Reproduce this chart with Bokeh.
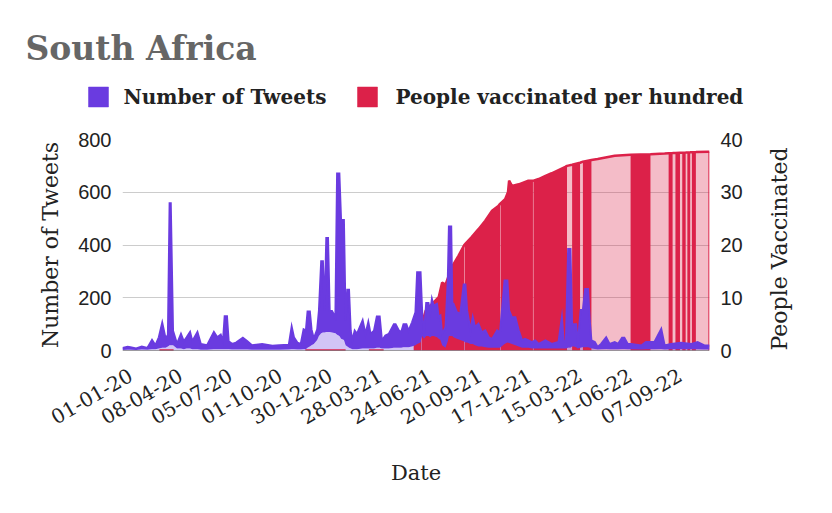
import math
import numpy as np
from bokeh.plotting import figure
from bokeh.layouts import column
from bokeh.models import Range1d, LinearAxis, FixedTicker, Label, Span
from bokeh.embed import file_html
from bokeh.resources import INLINE

# ---------------- data ----------------
title_text = "South Africa"
series_names = ["Number of Tweets", "People vaccinated per hundred"]
x_title = "Date"
y_left_title = "Number of Tweets"
y_right_title = "People Vaccinated"

tick_labels = ["01-01-20", "08-04-20", "05-07-20", "01-10-20", "30-12-20",
               "28-03-21", "24-06-21", "20-09-21", "17-12-21", "15-03-22",
               "11-06-22", "07-09-22"]
label_every = 88          # categories between shown labels
left_ticks = [0, 200, 400, 600, 800]
right_ticks = [0, 10, 20, 30, 40]

# category position (0 = 01-01-20); daily tweet counts summarised as
# the upper and lower edge of the day-to-day swing
tweet_day = [-14, -5, 0, 10, 20, 30, 38, 44, 50, 56, 62, 66, 69, 71, 75, 82,
             89, 94, 99, 105, 109, 118, 124, 135, 147, 153, 159, 163, 166,
             170, 173, 179, 186, 198, 206, 214, 232, 250, 262, 279, 284, 288,
             294, 300, 305, 309, 312, 316, 319, 323, 329, 332, 336, 339, 342,
             345, 348, 351, 355, 361, 364, 368, 371, 376, 379, 382, 385, 388,
             391, 395, 399, 409, 414, 419, 423, 429, 434, 439, 443, 449, 455,
             464, 467, 473, 477, 481, 486, 490, 496, 502, 505, 511, 514, 517,
             521, 525, 528, 531, 534, 540, 543, 546, 549, 555, 559, 561, 565,
             567, 569, 575, 581, 587, 590, 593, 599, 603, 607, 613, 619, 625,
             631, 637, 646, 651, 659, 664, 667, 672, 678, 684, 690, 695, 701,
             707, 713, 719, 731, 742, 754, 760, 763, 767, 771, 775, 778, 781,
             785, 788, 793, 797, 801, 806, 809, 812, 818, 823, 829, 838, 844,
             853, 859, 866, 870, 876, 882, 900, 908, 923, 935, 941, 952, 970,
             988, 999, 1011, 1020]
tweet_high = [10, 14, 12, 8, 15, 10, 40, 20, 50, 105, 45, 60, 558, 558, 75, 25,
              63, 35, 50, 70, 35, 70, 25, 20, 70, 50, 60, 35, 130,
              130, 35, 25, 30, 48, 35, 20, 25, 18, 20, 22, 90, 50,
              30, 25, 80, 75, 148, 148, 80, 45, 80, 150, 338, 338, 150,
              427, 427, 150, 150, 126, 671, 671, 495, 495, 115, 230, 230, 75,
              38, 75, 63, 114, 63, 108, 63, 75, 129, 129, 38, 57, 63,
              100, 100, 75, 70, 100, 100, 75, 107, 145, 297, 297, 139, 63,
              180, 180, 145, 195, 170, 177, 126, 132, 63, 88, 265, 470, 470,
              177, 177, 145, 139, 250, 250, 152, 76, 126, 88, 101, 69, 76,
              50, 44, 76, 69, 265, 265, 152, 126, 126, 76, 38, 44, 38,
              32, 38, 25, 38, 25, 32, 126, 38, 30, 385, 385, 100, 100,
              100, 25, 154, 154, 233, 233, 114, 38, 32, 13, 25, 50, 25,
              32, 25, 48, 48, 25, 25, 19, 32, 32, 82, 19, 25, 29,
              25, 32, 19, 19]
tweet_low = [2, 3, 3, 2, 4, 3, 5, 5, 8, 10, 10, 15, 20, 20, 20, 8,
             8, 5, 8, 8, 5, 5, 3, 3, 5, 5, 5, 5, 5,
             5, 5, 4, 4, 4, 4, 3, 3, 3, 3, 4, 5, 5,
             4, 4, 5, 5, 10, 15, 20, 25, 40, 55, 65, 68, 68,
             70, 70, 70, 68, 65, 60, 55, 45, 40, 20, 15, 10, 8,
             5, 5, 5, 8, 8, 8, 8, 8, 10, 10, 8, 8, 8,
             10, 10, 10, 10, 12, 12, 12, 15, 20, 25, 30, 55, 45,
             55, 55, 50, 55, 55, 50, 45, 40, 20, 10, 35, 55, 55,
             55, 50, 45, 40, 35, 30, 30, 25, 25, 20, 15, 15, 12,
             10, 10, 10, 10, 25, 30, 28, 25, 20, 15, 10, 10, 10,
             8, 8, 8, 8, 8, 8, 8, 8, 8, 10, 10, 15, 15,
             12, 8, 10, 12, 12, 12, 10, 8, 6, 4, 5, 6, 5,
             5, 5, 6, 6, 5, 5, 4, 5, 5, 6, 4, 5, 5,
             5, 5, 4, 4]

# people vaccinated per hundred (upper edge of the reported values)
vacc_day = [499, 505, 508, 512, 513, 520, 531, 543, 549, 555, 566, 578, 588,
            589, 601, 613, 625, 637, 648, 651, 652, 660, 665, 667, 672, 684,
            701, 709, 710, 719, 731, 742, 754, 766, 769, 778, 792, 797, 812,
            823, 853, 881, 916, 941, 948, 955, 960, 968, 972, 978, 981, 986,
            989, 996, 1018, 1020]
vacc_value = [2.0, 3.8, 4.3, 4.8, 5.0, 7.5, 8.8, 10.1, 12.9, 12.5, 15.8, 18.0,
              20.0, 20.1, 21.5, 23.0, 24.6, 26.5, 27.4, 27.8, 27.9, 28.7, 30.0,
              32.2, 31.2, 31.5, 32.2, 32.2, 32.2, 32.5, 33.1, 33.6, 34.2, 34.8,
              35.0, 35.2, 35.6, 35.8, 36.1, 36.3, 36.9, 37.1, 37.2, 37.35,
              37.4, 37.42, 37.45, 37.5, 37.5, 37.52, 37.55, 37.57, 37.6,
              37.62, 37.7, 37.7]
# stretches where the reports alternate with zero days
vacc_sparse = [(499, 512), (513, 588), (589, 651), (652, 709), (710, 769),
               (778, 792), (797, 812), (881, 916), (948, 955), (960, 968),
               (972, 978), (981, 986), (989, 996), (1018, 1020)]
# stretches reported as zero before the roll-out
vacc_zero_spans = [(51, 76), (308, 379), (420, 446)]

# ---------------- style ----------------
PURPLE = "#6A3BE0"
RED = "#DC2149"
SERIF = "DejaVu Serif"
SANS = "Liberation Sans"
TXT = "#222222"
W = 832
HEAD_H = 125
MAIN_H = 513 - HEAD_H


def bare(fig):
    fig.outline_line_color = None
    fig.background_fill_color = "white"
    fig.border_fill_color = "white"


# ---------------- header: title + legend ----------------
head = figure(frame_width=W, frame_height=HEAD_H, output_backend="svg",
              toolbar_location=None, x_axis_location=None,
              y_axis_location=None, x_range=Range1d(0, W),
              y_range=Range1d(0, HEAD_H), min_border=0,
              min_border_left=0, min_border_right=0, min_border_top=0,
              min_border_bottom=0)
if "frame_align" in head.properties():
    head.frame_align = False
bare(head)
head.grid.visible = False
head.add_layout(Label(x=25, y=HEAD_H - 48, x_units="screen", y_units="screen",
                      text=title_text, text_font=SERIF,
                      text_font_style="bold", text_font_size="33px",
                      text_color="#666666", text_baseline="alphabetic",
                      text_align="left"))
# legend keys (header pixel positions)
key_x = [98, 367]
key_text_x = [123, 395]
key_colors = [PURPLE, RED]
head.scatter(x=key_x, y=[HEAD_H - 96.5] * 2, marker="square", size=20,
             fill_color=key_colors, line_color=key_colors, line_width=0.5)
for tx, name in zip(key_text_x, series_names):
    head.add_layout(Label(x=tx, y=HEAD_H - 96.5, x_units="screen",
                          y_units="screen", text=name, text_font=SERIF,
                          text_font_style="bold", text_font_size="20px",
                          text_color=TXT, text_baseline="alphabetic",
                          text_align="left"))

# ---------------- main chart ----------------
x0 = min(tweet_day)
x1 = max(vacc_day)

p = figure(width=W, height=MAIN_H, output_backend="svg",
           toolbar_location=None,
           x_range=Range1d(x0, x1), y_range=Range1d(0, 800),
           min_border_left=122, min_border_right=123,
           min_border_top=139 - HEAD_H,
           min_border_bottom=MAIN_H - (350 - HEAD_H))
p.extra_y_ranges = {"vacc": Range1d(0, 40)}
bare(p)

vd = np.array(vacc_day, dtype=float)
vv = np.array(vacc_value, dtype=float)

p.varea(x=vacc_day, y1=0, y2=vacc_value, fill_color=RED, fill_alpha=0.3,
        y_range_name="vacc")
p.varea(x=tweet_day, y1=0, y2=tweet_low, fill_color=PURPLE, fill_alpha=0.3)
for a, b in vacc_sparse:
    m = (vd >= a) & (vd <= b)
    p.varea(x=vd[m], y1=0, y2=vv[m], fill_color=RED, fill_alpha=1.0,
            y_range_name="vacc")
p.segment(x0=[a for a, b in vacc_zero_spans], y0=0,
          x1=[b for a, b in vacc_zero_spans], y1=0,
          line_color=RED, line_width=2.5, y_range_name="vacc")
p.line(vacc_day, vacc_value, line_color=RED, line_width=2.5,
       y_range_name="vacc")
p.varea(x=tweet_day, y1=tweet_low, y2=tweet_high, fill_color=PURPLE)
p.line(tweet_day, tweet_high, line_color=PURPLE, line_width=2,
       line_join="miter")

p.add_layout(Span(location=0, dimension="width", line_color="#444444",
                  line_width=1.2))


def style_axis(ax, font, size, standoff):
    ax.major_label_text_font = font
    ax.major_label_text_font_size = size
    ax.major_label_text_color = TXT
    ax.major_tick_out = 0
    ax.major_tick_in = 0
    ax.major_label_standoff = standoff
    ax.axis_line_color = None
    ax.major_tick_line_color = None
    ax.minor_tick_line_color = None
    ax.axis_label_text_font = SERIF
    ax.axis_label_text_font_style = "normal"
    ax.axis_label_text_font_size = "22px"
    ax.axis_label_text_color = TXT


xa = p.xaxis[0]
xa.ticker = FixedTicker(ticks=[i * label_every for i in range(len(tick_labels))])
xa.major_label_overrides = {i * label_every: t for i, t in enumerate(tick_labels)}
xa.major_label_orientation = math.pi / 6
style_axis(xa, SERIF, "20px", 23)
xa.axis_label = x_title
xa.axis_label_text_font_size = "21px"
xa.axis_label_standoff = 27
p.xgrid.visible = False

ya = p.yaxis[0]
ya.ticker = FixedTicker(ticks=left_ticks)
p.ygrid.ticker = FixedTicker(ticks=left_ticks)
p.ygrid.grid_line_color = "#cccccc"
p.ygrid.grid_line_width = 1.2
style_axis(ya, SANS, "20px", 11)
ya.axis_label = y_left_title
ya.axis_label_standoff = 12

ra = LinearAxis(y_range_name="vacc", ticker=FixedTicker(ticks=right_ticks))
style_axis(ra, SANS, "20px", 11)
ra.axis_label = y_right_title
ra.axis_label_standoff = 34
props = ra.properties()
if "axis_label_orientation" in props and "axis_label_align" in props:
    ra.axis_label_orientation = math.pi / 2
    ra.axis_label_align = "start"
p.add_layout(ra, "right")

layout = column(head, p, spacing=0)
open("out.html", "w").write(file_html(layout, INLINE))
